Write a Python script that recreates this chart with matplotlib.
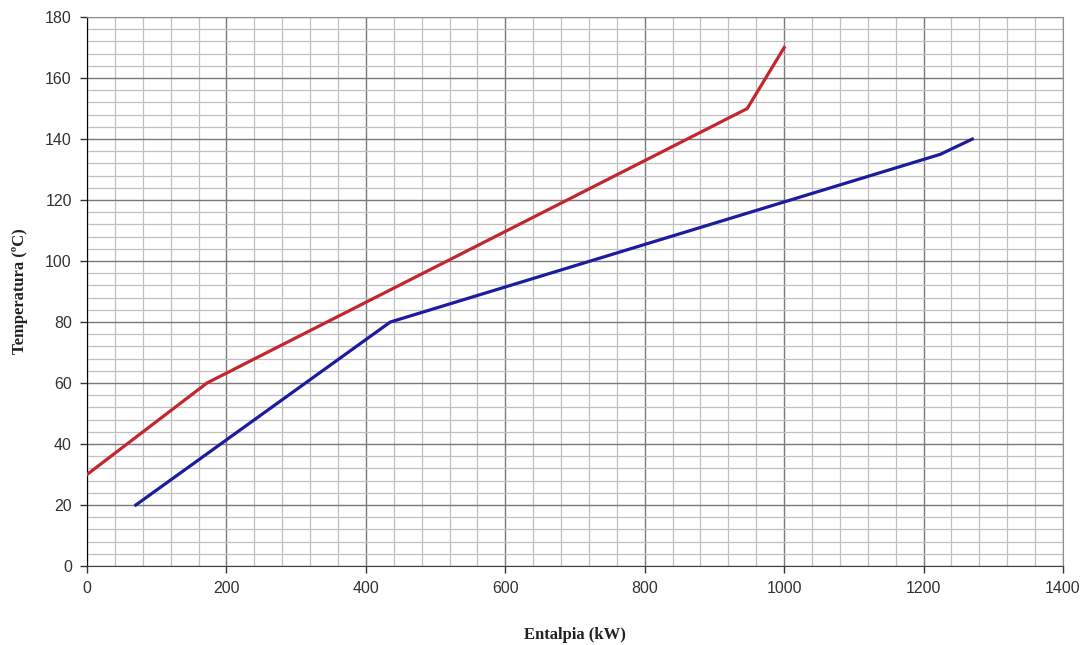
import matplotlib
matplotlib.use("Agg")
import matplotlib.pyplot as plt
from matplotlib.ticker import MultipleLocator

# curva caliente (roja) y fria (azul)
hot_h = [0, 172, 947, 1000]
hot_t = [30, 60, 150, 170]
cold_h = [70, 435, 1224, 1270]
cold_t = [20, 80, 135, 140]

fig = plt.figure(figsize=(10.88, 6.45), dpi=100)
ax = fig.add_axes([0.080, 0.1225, 0.897, 0.851])

ax.plot(hot_h, hot_t, color="#C4262E", lw=2.3, zorder=3)
ax.plot(cold_h, cold_t, color="#1C1C9E", lw=2.3, zorder=3)

ax.set_xlim(0, 1400)
ax.set_ylim(0, 180)
ax.xaxis.set_major_locator(MultipleLocator(200))
ax.xaxis.set_minor_locator(MultipleLocator(40))
ax.yaxis.set_major_locator(MultipleLocator(20))
ax.yaxis.set_minor_locator(MultipleLocator(4))

ax.grid(which="major", color="#7a7a7a", lw=1.0)
ax.grid(which="minor", color="#c0c0c0", lw=0.9)
ax.set_axisbelow(True)

ax.tick_params(which="major", length=5, width=1, direction="out", colors="#333333",
               labelsize=11.5, pad=6)
ax.tick_params(which="minor", length=0)
for lab in ax.get_xticklabels() + ax.get_yticklabels():
    lab.set_family("Liberation Sans")

ax.spines["left"].set_color("black")
ax.spines["bottom"].set_color("#404040")
ax.spines["top"].set_color("#909090")
ax.spines["right"].set_color("#909090")

ax.set_xlabel("Entalpia (kW)", family="Liberation Serif", fontweight="bold",
              fontsize=12, color="#222222", labelpad=22)
ax.set_ylabel("Temperatura (ºC)", family="Liberation Serif", fontweight="bold",
              fontsize=12, color="#222222", labelpad=12)

fig.savefig("out.png", dpi=100)
